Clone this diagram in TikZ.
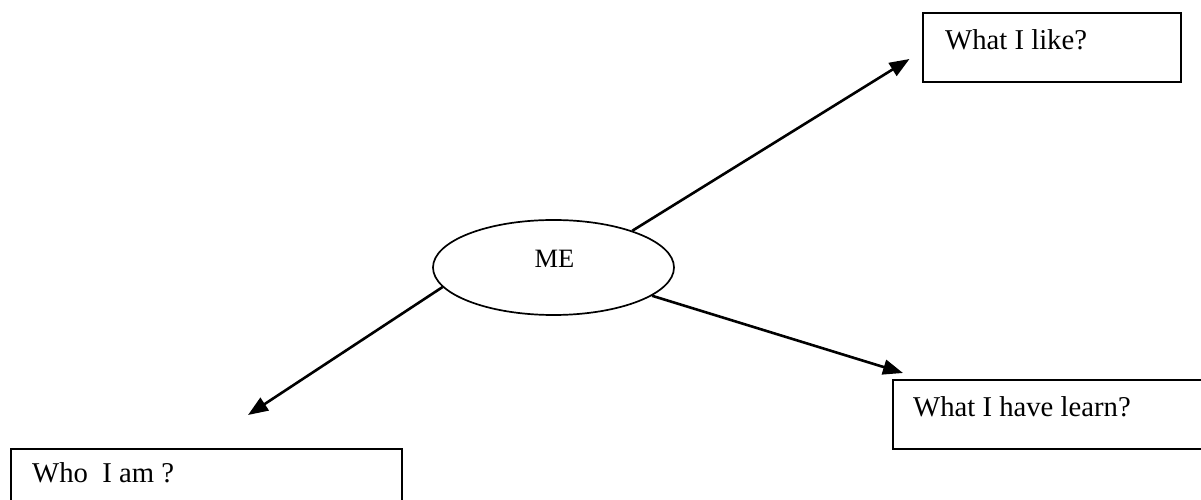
\documentclass[tikz,border=0pt]{standalone}
\usepackage{fontspec}
\setmainfont{Liberation Serif}
\usetikzlibrary{shapes.geometric,arrows.meta}
\begin{document}
\begin{tikzpicture}[x=1pt,y=1pt,
  box/.style={draw, line width=2pt, rectangle, inner sep=0pt, anchor=north west},
  txt/.style={inner sep=0pt, anchor=base west, font=\fontsize{28.7}{34}\selectfont},
  oval/.style={draw, ellipse, line width=1.7pt, inner sep=0pt, minimum width=241pt, minimum height=95pt},
  conn/.style={line width=2.6pt, -{Triangle[length=20pt,width=15pt]}}]
\useasboundingbox (0,0) rectangle (1201,500);
\clip (0,0) rectangle (1201,500);
% central ellipse
\node[oval] (me) at (553.5,232.5) {};
\node[inner sep=0pt, anchor=base, font=\fontsize{26.5}{32}\selectfont] (metext) at (554.5,232) {ME};
% boxes
\node[box, minimum width=258pt, minimum height=69pt] (like) at (922,488) {};
\node[txt] (liketext) at (945,450) {What I like?};
\node[box, minimum width=340pt, minimum height=69pt] (learn) at (892,121) {};
\node[txt] (learntext) at (913,83) {What I have learn?};
\node[box, minimum width=391pt, minimum height=90pt] (who) at (10,52) {};
\node[txt] (whotext) at (32,17) {Who~~I am ?};
% arrow tips
\coordinate (t1) at (909.5,441);
\coordinate (t2) at (903,127);
\coordinate (t3) at (248,85);
\draw[conn] (me.25) -- (t1);
\draw[conn] (me.-16) -- (t2);
\draw[conn] (me.190) -- (t3);
\end{tikzpicture}
\end{document}
